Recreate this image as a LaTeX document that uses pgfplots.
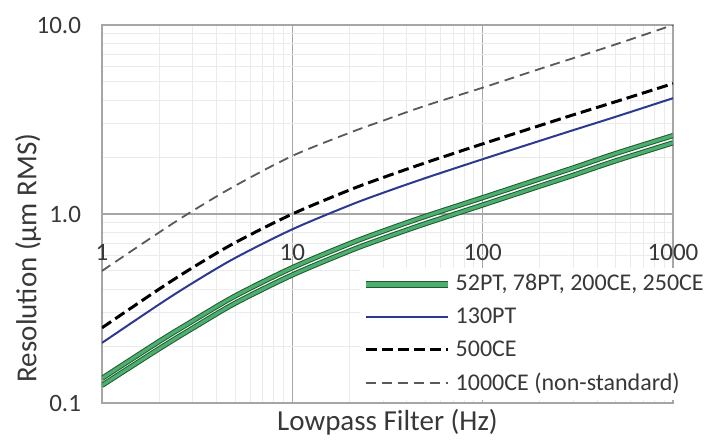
\documentclass[border=0pt]{standalone}
\usepackage{fontspec}
\setmainfont{Carlito}
\usepackage{pgfplots}
\usepackage{pgfplotstable}
\pgfplotsset{compat=1.18}
\definecolor{gcore}{HTML}{4DAF6E}
\definecolor{gedge}{HTML}{1E5A32}
\definecolor{navy}{HTML}{2B3990}
\definecolor{gridmaj}{HTML}{A6A6A6}
\definecolor{gridmin}{HTML}{EBEBEB}
\definecolor{txt}{HTML}{383838}

\pgfplotstableread{
f    gup    glo    b130   c500   c1000
1    0.135  0.124  0.208  0.250  0.50
2    0.212  0.194  0.333  0.401  0.80
3    0.272  0.249  0.432  0.521  1.04
5    0.368  0.337  0.585  0.705  1.41
10   0.520  0.476  0.830  1.000  2.03
20   0.697  0.638  1.112  1.340  2.69
30   0.812  0.743  1.295  1.560  3.12
50   0.972  0.889  1.549  1.866  3.74
100  1.220  1.116  1.950  2.350  4.66
200  1.535  1.405  2.440  2.940  5.86
300  1.755  1.606  2.780  3.350  6.68
500  2.090  1.912  3.270  3.930  7.90
1000 2.600  2.380  4.100  4.900  10.0
}\datatable

\begin{document}
\begin{tikzpicture}
\path[use as bounding box] (-51pt,-20pt) rectangle (302pt,201.5pt);
\begin{axis}[
 xmode=log, ymode=log,
 scale only axis, width=285.5pt, height=189pt,
 xmin=1, xmax=1000, ymin=0.1, ymax=10,
 axis line style={gridmaj, line width=0.6pt},
 xtick={1,10,100,1000}, xticklabels={1,10,100,1000},
 ytick={0.1,1,10}, yticklabels={0.1,1.0,10.0},
 major tick length=0pt, minor tick length=0pt,
 grid=both,
 major grid style={gridmaj, line width=0.6pt},
 minor grid style={gridmin, line width=0.5pt},
 extra y ticks={1}, extra y tick labels={},
 extra y tick style={grid style={black!50, line width=1pt}},
 tick label style={font=\fontsize{12.5}{14}\selectfont, text=txt},
 x tick label style={yshift=83pt},
 y tick label style={xshift=-7pt},
 xlabel={Lowpass Filter (Hz)}, ylabel={Resolution (µm RMS)},
 label style={font=\fontsize{14.5}{16}\selectfont, text=txt},
 xlabel style={at={(axis description cs:0.5,0)}, anchor=center, yshift=-9.5pt},
 ylabel style={at={(axis description cs:0,0.3836)}, anchor=center, yshift=37pt},
 legend style={at={(axis description cs:0.452,0.357)}, anchor=north west, draw=none, fill=white,
   font=\fontsize{12}{14}\selectfont, text=txt, row sep=3pt, inner xsep=1pt, inner ysep=1pt},
 legend cell align=left,
 legend image code/.code={\draw[#1] (0pt,0pt) -- (41pt,0pt);},
]
\addplot[draw=gedge, double=gcore, double distance=1.6pt, line width=0.5pt, smooth, forget plot] table[x=f,y=glo]{\datatable};
\addplot[draw=gedge, double=gcore, double distance=1.6pt, line width=0.5pt, smooth,
  legend image code/.code={\draw[draw=gedge, double=gcore, double distance=2.4pt, line width=0.6pt] (0pt,0pt) -- (41pt,0pt);}] table[x=f,y=gup]{\datatable};
\addlegendentry{52PT, 78PT, 200CE, 250CE}
\addplot[navy, line width=1pt, smooth] table[x=f,y=b130]{\datatable};
\addlegendentry{130PT}
\addplot[black, line width=1.5pt, dash pattern=on 5.5pt off 2.5pt, smooth] table[x=f,y=c500]{\datatable};
\addlegendentry{500CE}
\addplot[black!65, line width=0.9pt, dash pattern=on 5pt off 3pt, smooth] table[x=f,y=c1000]{\datatable};
\addlegendentry{1000CE (non-standard)}
\end{axis}
\end{tikzpicture}
\end{document}
